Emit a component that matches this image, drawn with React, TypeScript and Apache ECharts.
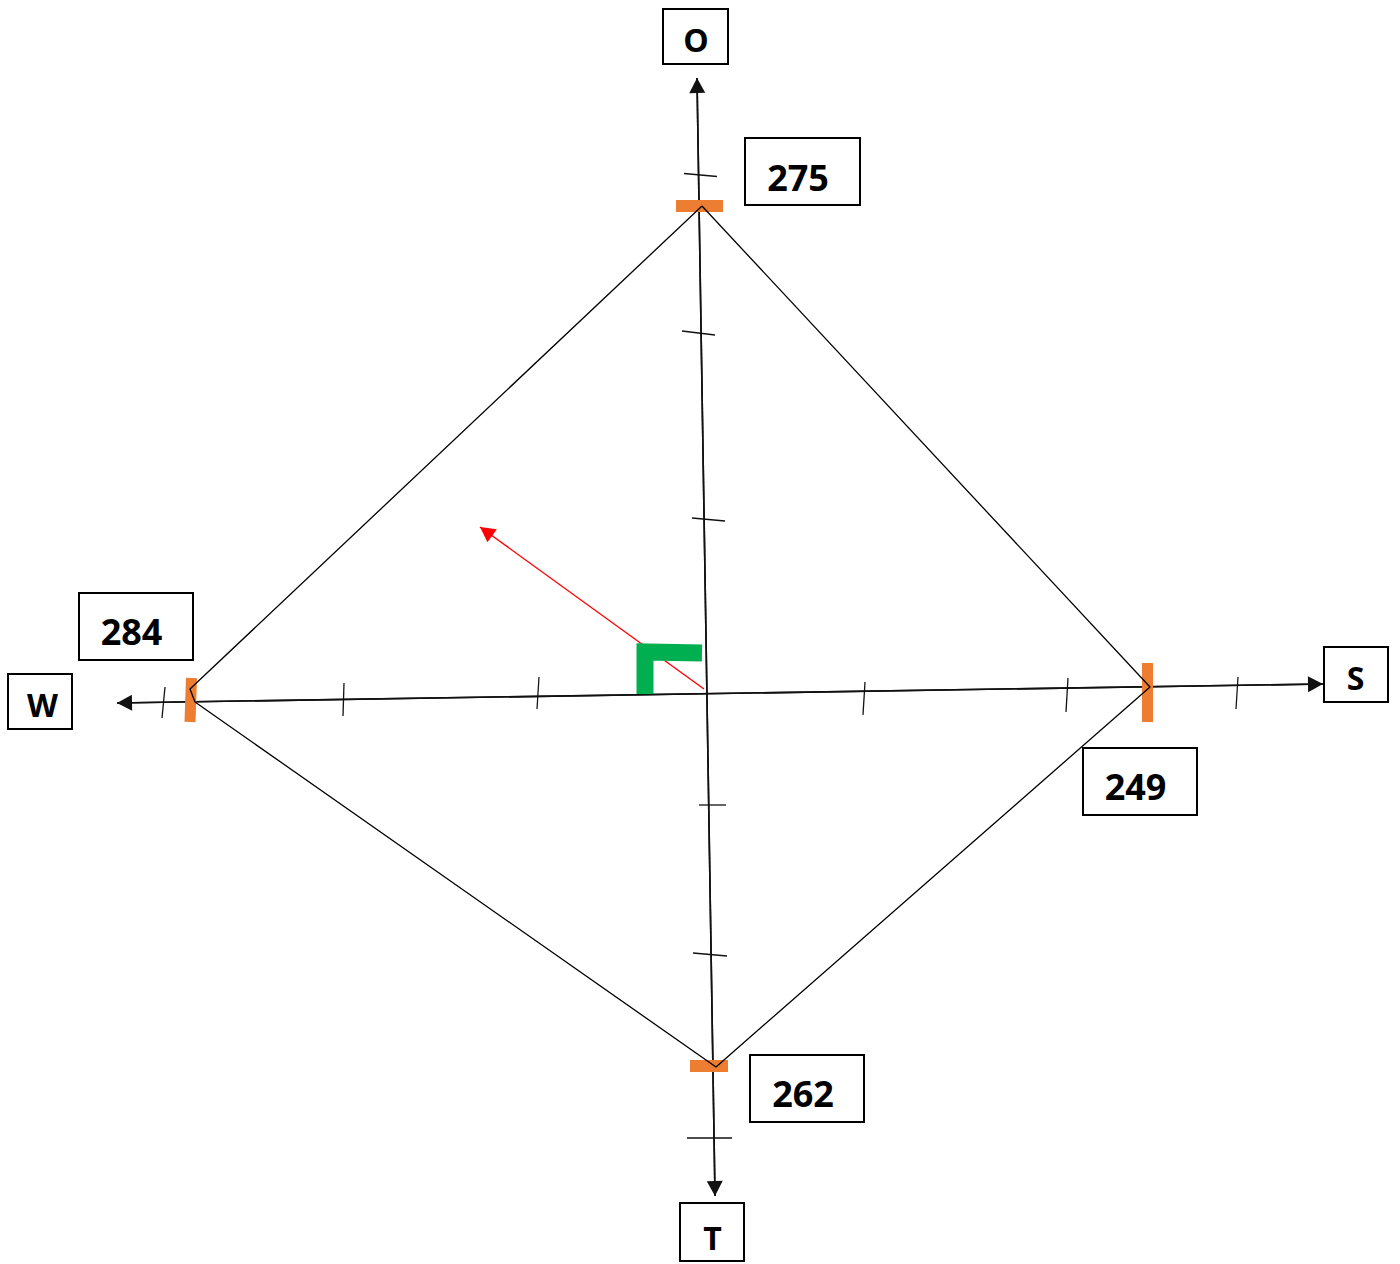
import React, { useEffect, useRef } from 'react';
import * as echarts from 'echarts';

// ---- Data (diagram drawing space: x to the right, y downward) ----
// Axis names and readings, clockwise from the top: O, S, T, W
const axisNames = ['O', 'S', 'T', 'W'];
const readings = [275, 249, 262, 284];

// Arrow tips of the four half-axes (O, S, T, W)
const axisTips = [
  [697, 78],
  [1323, 684],
  [715, 1196],
  [117, 703],
];

// Diamond corners (O, S, T, W with the small hand-drawn gap at W)
const vertexPoints = [
  [702, 206],
  [1150, 687],
  [716, 1067],
  [195, 702],
  [190, 689],
];

// Orange reading markers on each axis
const markerSegments = [
  [676, 206, 723, 206],
  [1147.5, 663, 1147.5, 722],
  [690, 1066, 728, 1066],
  [191.5, 678, 190, 722],
];
const markerThickness = [12, 11, 12, 11];

// Tick marks
const tickSegments = [
  // O axis
  [684, 173.5, 717, 176.5],
  [682, 331, 715, 335],
  [692, 518, 725, 521],
  // T axis
  [699, 805, 726, 805],
  [693, 953, 727, 956],
  [687, 1138, 732, 1138],
  // W axis
  [165, 687, 162, 718],
  [344, 683, 343, 716],
  [539, 677, 537, 709],
  // S axis
  [865, 682, 863, 715],
  [1068, 678, 1066, 712],
  [1238, 677, 1236, 709],
];

// Red direction arrow (tail, tip)
const redArrow = [[704, 689, 480, 527]];

// Green corner mark
const greenMark = [
  [645, 694],
  [645, 652],
  [702, 653],
];

// Label boxes: [x1, y1, x2, y2, textX, textY]
const nameBoxes = [
  [663, 9, 728, 64, 696, 39.5],
  [1324, 647, 1388, 702, 1355.5, 677.5],
  [680, 1203, 744, 1261, 712.5, 1237.5],
  [8, 674, 72, 729, 42.5, 704],
];
const readingBoxes = [
  [745, 138, 860, 205, 798, 177],
  [1083, 748, 1197, 815, 1135.5, 786.5],
  [750, 1055, 864, 1122, 803, 1093.5],
  [79, 593, 193, 660, 131.5, 631.5],
];

// ---- Helpers ----
function segmentSeries(name: string, data: number[][], stroke: string, widths: number | number[], cap = 'butt') {
  return {
    type: 'custom',
    name,
    coordinateSystem: 'cartesian2d',
    silent: true,
    clip: false,
    data,
    renderItem: (params: any, api: any) => {
      const p1 = api.coord([api.value(0), api.value(1)]);
      const p2 = api.coord([api.value(2), api.value(3)]);
      const w = Array.isArray(widths) ? widths[params.dataIndex] : widths;
      return {
        type: 'line',
        shape: { x1: p1[0], y1: p1[1], x2: p2[0], y2: p2[1] },
        style: { stroke, lineWidth: w, lineCap: cap },
      };
    },
  };
}

function headPoints(tip: number[], from: number[], len: number, halfW: number) {
  const dx = tip[0] - from[0];
  const dy = tip[1] - from[1];
  const d = Math.hypot(dx, dy) || 1;
  const ux = dx / d;
  const uy = dy / d;
  const bx = tip[0] - ux * len;
  const by = tip[1] - uy * len;
  return [
    [tip[0], tip[1]],
    [bx - uy * halfW, by + ux * halfW],
    [bx + uy * halfW, by - ux * halfW],
  ];
}

function arrowSeries(name: string, data: number[][], color: string, lineWidth: number, len: number, halfW: number) {
  // data rows: [fromX, fromY, tipX, tipY]
  return {
    type: 'custom',
    name,
    coordinateSystem: 'cartesian2d',
    silent: true,
    clip: false,
    data,
    renderItem: (params: any, api: any) => {
      const from = api.coord([api.value(0), api.value(1)]);
      const tip = api.coord([api.value(2), api.value(3)]);
      return {
        type: 'group',
        children: [
          {
            type: 'line',
            shape: { x1: from[0], y1: from[1], x2: tip[0], y2: tip[1] },
            style: { stroke: color, lineWidth },
          },
          {
            type: 'polygon',
            shape: { points: headPoints(tip, from, len, halfW) },
            style: { fill: color, stroke: null },
          },
        ],
      };
    },
  };
}

function boxSeries(name: string, data: number[][], texts: string[], fontSize: number) {
  return {
    type: 'custom',
    name,
    coordinateSystem: 'cartesian2d',
    silent: true,
    clip: false,
    data,
    renderItem: (params: any, api: any) => {
      const a = api.coord([api.value(0), api.value(1)]);
      const b = api.coord([api.value(2), api.value(3)]);
      const t = api.coord([api.value(4), api.value(5)]);
      return {
        type: 'group',
        children: [
          {
            type: 'rect',
            shape: { x: a[0], y: a[1], width: b[0] - a[0], height: b[1] - a[1] },
            style: { fill: '#ffffff', stroke: '#000000', lineWidth: 2 },
          },
          {
            type: 'text',
            x: t[0],
            y: t[1],
            style: {
              text: texts[params.dataIndex],
              fontSize,
              fontWeight: 'bold',
              fontFamily: '"Open Sans", "Noto Sans", sans-serif',
              fill: '#000000',
              align: 'center',
              verticalAlign: 'middle',
            },
          },
        ],
      };
    },
  };
}

export default function App() {
  const ref = useRef<HTMLDivElement>(null);

  useEffect(() => {
    if (!ref.current) return;
    const chart = echarts.init(ref.current, null, { renderer: 'svg' });

    // axis rows: [fromX, fromY, tipX, tipY] — each half drawn from the opposite tip
    const axisArrowRows = axisTips.map((tip, i) => {
      const opp = axisTips[(i + 2) % 4];
      return [opp[0], opp[1], tip[0], tip[1]];
    });

    chart.setOption({
      animation: false,
      backgroundColor: '#ffffff',
      grid: { left: 0, right: 0, top: 0, bottom: 0, containLabel: false },
      xAxis: { type: 'value', min: 0, max: 1400, show: false },
      yAxis: { type: 'value', min: 0, max: 1264, inverse: true, show: false },
      tooltip: { show: false },
      series: [
        arrowSeries('axes', axisArrowRows, '#111111', 1.6, 15, 8),
        segmentSeries('ticks', tickSegments, '#111111', 1.3),
        segmentSeries('markers', markerSegments, '#ED7D31', markerThickness),
        {
          type: 'line',
          name: 'diamond',
          silent: true,
          symbol: 'none',
          data: [...vertexPoints, vertexPoints[0]],
          lineStyle: { color: '#000000', width: 1.3 },
        },
        {
          type: 'line',
          name: 'corner',
          silent: true,
          symbol: 'none',
          data: greenMark,
          lineStyle: { color: '#00B050', width: 17, join: 'miter', cap: 'butt' },
        },
        arrowSeries('direction', redArrow, '#FF0000', 1.4, 15, 8),
        boxSeries('names', nameBoxes, axisNames, 32),
        boxSeries('readings', readingBoxes, readings.map(String), 36),
      ],
    });

    return () => chart.dispose();
  }, []);

  return (
    <div
      ref={ref}
      style={{ position: 'absolute', left: 0, top: 0, width: 1400, height: 1264, background: '#ffffff' }}
    />
  );
}
